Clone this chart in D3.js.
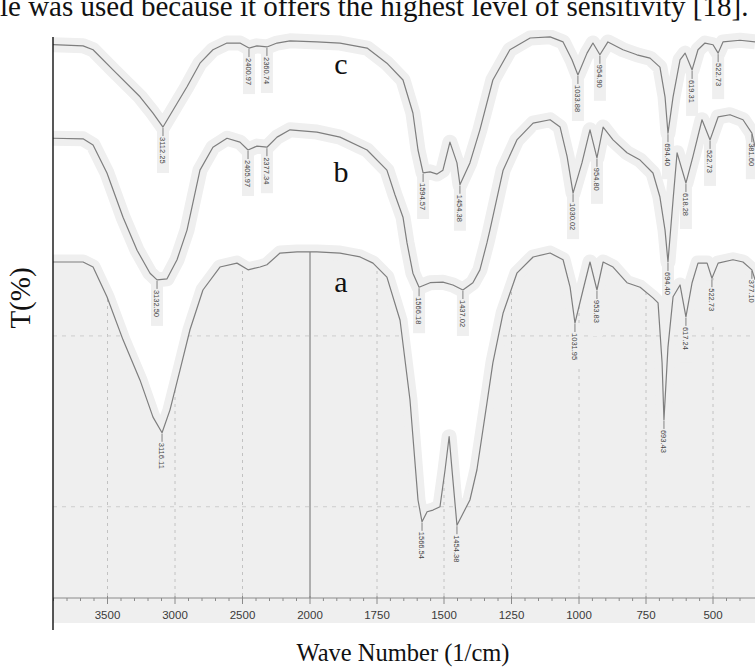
<!DOCTYPE html>
<html>
<head>
<meta charset="utf-8">
<script src="https://cdn.jsdelivr.net/npm/d3@7"></script>
<style>
  body { margin: 0; background: #fff; }
  svg { display: block; }
</style>
</head>
<body>
<svg id="chart" width="755" height="669"></svg>
<script>
// wavenumber (1/cm), transmittance (stacked, arbitrary offset per trace)
const specC = [
  [3904, 98.8], [3681, 98.6], [3607, 97.9], [3459, 94.3], [3259, 89.5], [3163, 86.6],
  [3089, 84.1], [3015, 87.1], [2911, 91.3], [2815, 95.5], [2719, 97.9], [2615, 99.1],
  [2519, 99.1], [2452, 98.2], [2393, 98.6], [2319, 98.4], [2244, 99.1], [2148, 99.5],
  [1974, 99.3], [1888, 99.1], [1787, 98.2], [1713, 95.5], [1653, 92.5], [1616, 86.6],
  [1597, 80.0], [1578, 75.9], [1552, 76.1], [1526, 75.7], [1504, 76.4], [1478, 81.4],
  [1452, 77.7], [1441, 73.8], [1404, 77.7], [1367, 83.6], [1319, 92.5], [1256, 97.9],
  [1181, 100.0], [1107, 100.2], [1059, 99.3], [1026, 96.1], [1004, 93.4], [970, 97.3],
  [948, 99.1], [922, 97.0], [892, 99.3], [836, 97.9], [784, 97.0], [735, 96.4],
  [698, 94.8], [679, 89.5], [668, 83.0], [649, 89.5], [623, 96.1], [604, 97.3],
  [578, 94.3], [556, 97.9], [530, 99.1], [500, 98.8], [481, 97.3], [463, 99.3],
  [400, 99.6], [344, 99.3]
];

const specB = [
  [3904, 82.1], [3681, 82.0], [3607, 80.9], [3504, 75.9], [3385, 68.0], [3281, 62.1],
  [3185, 58.0], [3133, 56.8], [3059, 57.0], [2985, 60.4], [2911, 65.7], [2815, 76.4],
  [2719, 80.5], [2615, 82.1], [2519, 81.4], [2459, 80.0], [2393, 80.7], [2319, 80.5],
  [2244, 82.3], [2148, 83.6], [1974, 83.2], [1888, 82.3], [1787, 80.0], [1713, 76.4],
  [1683, 72.0], [1653, 68.0], [1638, 63.4], [1616, 58.0], [1593, 55.5], [1552, 56.3],
  [1504, 56.4], [1467, 55.9], [1430, 55.0], [1393, 56.3], [1367, 58.6], [1341, 63.4],
  [1330, 65.7], [1281, 76.4], [1230, 81.8], [1170, 84.8], [1107, 85.4], [1070, 84.1],
  [1044, 78.8], [1022, 72.3], [989, 77.7], [959, 83.6], [933, 78.6], [910, 84.1],
  [873, 81.8], [821, 79.5], [772, 78.2], [724, 75.9], [698, 71.6], [679, 65.7],
  [668, 60.0], [649, 71.1], [634, 79.5], [601, 74.1], [575, 78.8], [541, 85.4],
  [511, 81.8], [481, 85.9], [437, 86.3], [389, 85.4], [356, 83.0], [344, 80.5]
];

const specA = [
  [3904, 60.0], [3681, 60.0], [3607, 59.1], [3504, 53.8], [3385, 46.1], [3259, 38.9],
  [3163, 32.3], [3096, 29.5], [3037, 33.6], [2963, 40.7], [2889, 47.9], [2793, 55.0],
  [2667, 59.1], [2541, 59.8], [2459, 58.6], [2370, 59.1], [2319, 59.5], [2222, 61.6],
  [2096, 61.8], [1974, 61.8], [1888, 61.6], [1813, 60.9], [1765, 59.8], [1713, 57.3],
  [1664, 49.6], [1627, 35.4], [1597, 17.5], [1582, 13.6], [1563, 15.4], [1541, 15.7],
  [1515, 16.3], [1496, 22.9], [1481, 28.8], [1467, 21.1], [1452, 13.0], [1404, 17.5],
  [1378, 22.9], [1341, 34.8], [1319, 42.0], [1281, 50.9], [1230, 58.0], [1170, 60.9],
  [1107, 61.6], [1059, 60.4], [1033, 55.5], [1015, 49.1], [985, 55.0], [959, 60.0],
  [933, 55.0], [910, 60.0], [873, 59.1], [821, 56.3], [772, 55.5], [724, 53.6],
  [705, 52.7], [690, 42.0], [683, 31.8], [668, 44.8], [649, 53.8], [623, 55.9],
  [601, 50.2], [578, 56.3], [556, 59.8], [522, 59.8], [504, 57.1], [481, 59.8],
  [426, 60.4], [389, 60.0], [356, 58.6], [344, 56.8]
];

// peak marks: wavenumber of the drawn minimum, printed label
const peaksC = [
  [3089, '3112.25'], [2452, '2400.97'], [2319, '2360.74'], [1578, '1594.57'],
  [1441, '1454.38'], [1004, '1033.88'], [922, '954.90'], [668, '694.40'],
  [578, '619.31'], [481, '522.73']
];
const peaksB = [
  [3133, '3132.50'], [2459, '2405.97'], [2319, '2377.34'], [1593, '1566.18'],
  [1430, '1437.02'], [1022, '1030.02'], [933, '954.80'], [668, '694.40'],
  [601, '618.28'], [511, '522.73'], [356, '381.60']
];
const peaksA = [
  [3096, '3116.11'], [1582, '1566.54'], [1452, '1454.38'], [1015, '1031.95'],
  [933, '953.83'], [683, '693.43'], [601, '617.24'], [504, '522.73'], [356, '377.10']
];

const traceNames = ['c', 'b', 'a'];
const traceNameT = [93.5, 74.2, 54.6];
const tickValues = [3500, 3000, 2500, 2000, 1750, 1500, 1250, 1000, 750, 500];
const gridT = [16.3, 46.8];

const svg = d3.select('#chart');
const W = 755, left = 53, axisY = 598, scanBottom = 623;

// split scale like the instrument printout (4000-2000 compressed)
const x = d3.scaleLinear()
  .domain([4000, 2000, 1500, 1000, 500, 300])
  .range([40, 310, 444, 579, 713, 767]);
const y = d3.scaleLinear().domain([0, 100]).range([axisY, 38]);

const line = d3.line().x(d => x(d[0])).y(d => y(d[1])).curve(d3.curveLinear);
const areaA = d3.area().x(d => x(d[0])).y0(scanBottom).y1(d => y(d[1]));
const areaGrid = d3.area().x(d => x(d[0])).y0(axisY).y1(d => y(d[1]));

const defs = svg.append('defs');
defs.append('clipPath').attr('id', 'plotClip')
  .append('rect').attr('x', left).attr('y', 30).attr('width', W - left).attr('height', 600);
defs.append('clipPath').attr('id', 'gridClip')
  .append('path').attr('d', areaGrid(specA));

const paper = '#efefef';
const plot = svg.append('g').attr('clip-path', 'url(#plotClip)');

// scanned paper patches
plot.append('path').attr('d', areaA(specA)).attr('fill', paper);
[specC, specB, specA].forEach(s => {
  plot.append('path').attr('d', line(s))
    .attr('fill', 'none').attr('stroke', paper)
    .attr('stroke-width', 15).attr('stroke-linejoin', 'round');
});

// grid (only visible on the lower spectrum's sheet)
const grid = plot.append('g').attr('clip-path', 'url(#gridClip)');
grid.selectAll('line.v')
  .data(tickValues.filter(v => v !== 2000))
  .join('line')
  .attr('x1', d => x(d)).attr('x2', d => x(d))
  .attr('y1', 40).attr('y2', axisY)
  .attr('stroke', '#c2c2c2').attr('stroke-dasharray', '3,4');
grid.selectAll('line.h')
  .data(gridT)
  .join('line')
  .attr('x1', left).attr('x2', W)
  .attr('y1', d => y(d)).attr('y2', d => y(d))
  .attr('stroke', '#cdcdcd').attr('stroke-dasharray', '4,5');
grid.append('line')
  .attr('x1', x(2000)).attr('x2', x(2000))
  .attr('y1', 40).attr('y2', axisY)
  .attr('stroke', '#6e6e6e').attr('stroke-width', 1);

// label patches + peak labels
function drawPeaks(spec, peaks) {
  const lookup = new Map(spec.map(d => [d[0], d[1]]));
  const g = plot.append('g');
  peaks.forEach(([w, txt]) => {
    const px = x(w), py = y(lookup.get(w));
    g.append('rect')
      .attr('x', px - 6).attr('y', py + 2)
      .attr('width', 12).attr('height', 44)
      .attr('fill', paper);
    g.append('line')
      .attr('x1', px).attr('x2', px)
      .attr('y1', py + 1).attr('y2', py + 9)
      .attr('stroke', '#666').attr('stroke-width', 0.8);
    g.append('text')
      .attr('transform', `translate(${px},${py + 10}) rotate(90)`)
      .attr('dy', '0.35em')
      .attr('font-family', 'Liberation Sans, Arial, sans-serif')
      .attr('font-size', 7.5)
      .attr('fill', '#444')
      .text(txt);
  });
}
drawPeaks(specC, peaksC);
drawPeaks(specB, peaksB);
drawPeaks(specA, peaksA);

// spectra
[specC, specB, specA].forEach(s => {
  plot.append('path').attr('d', line(s))
    .attr('fill', 'none').attr('stroke', '#7e7e7e')
    .attr('stroke-width', 1.2).attr('stroke-linejoin', 'round');
});

// bottom axis
const axisG = svg.append('g').attr('transform', `translate(0,${axisY})`);
const minor = d3.range(3900, 2000, -100).concat(d3.range(1950, 350, -50))
  .filter(v => !tickValues.includes(v));
axisG.append('line').attr('x1', left).attr('x2', W).attr('y1', 0).attr('y2', 0)
  .attr('stroke', '#8a8a8a');
axisG.selectAll('line.minor').data(minor).join('line')
  .attr('x1', d => x(d)).attr('x2', d => x(d)).attr('y1', 0).attr('y2', 3)
  .attr('stroke', '#8a8a8a');
axisG.selectAll('line.major').data(tickValues).join('line')
  .attr('x1', d => x(d)).attr('x2', d => x(d)).attr('y1', -2).attr('y2', 6)
  .attr('stroke', '#8a8a8a');
axisG.selectAll('text').data(tickValues).join('text')
  .attr('x', d => x(d)).attr('y', 21)
  .attr('text-anchor', 'middle')
  .attr('font-family', 'Liberation Sans, Arial, sans-serif')
  .attr('font-size', 11.5)
  .attr('fill', '#3a3a3a')
  .text(d => d);

// trace letters
svg.selectAll('text.trace').data(traceNames).join('text')
  .attr('class', 'trace')
  .attr('x', 341).attr('y', (d, i) => y(traceNameT[i]))
  .attr('text-anchor', 'middle')
  .attr('font-family', 'Liberation Serif, Times New Roman, serif')
  .attr('font-size', 30).attr('fill', '#111')
  .text(d => d);

// left axis line
svg.append('line').attr('x1', left).attr('x2', left).attr('y1', 37).attr('y2', 630)
  .attr('stroke', '#111').attr('stroke-width', 1.4);

// titles
svg.append('text')
  .attr('transform', 'translate(30,298) rotate(-90)')
  .attr('text-anchor', 'middle')
  .attr('font-family', 'Liberation Serif, Times New Roman, serif')
  .attr('font-size', 29).attr('fill', '#111')
  .text('T(%)');
svg.append('text')
  .attr('x', 403).attr('y', 661)
  .attr('text-anchor', 'middle')
  .attr('font-family', 'Liberation Serif, Times New Roman, serif')
  .attr('font-size', 24.5).attr('fill', '#111')
  .text('Wave Number (1/cm)');

// running text from the page above the figure
svg.append('text')
  .attr('x', 0).attr('y', 16)
  .attr('font-family', 'Liberation Serif, Times New Roman, serif')
  .attr('font-size', 29).attr('fill', '#111')
  .text('le was used because it offers the highest level of sensitivity [18].');
</script>
</body>
</html>
